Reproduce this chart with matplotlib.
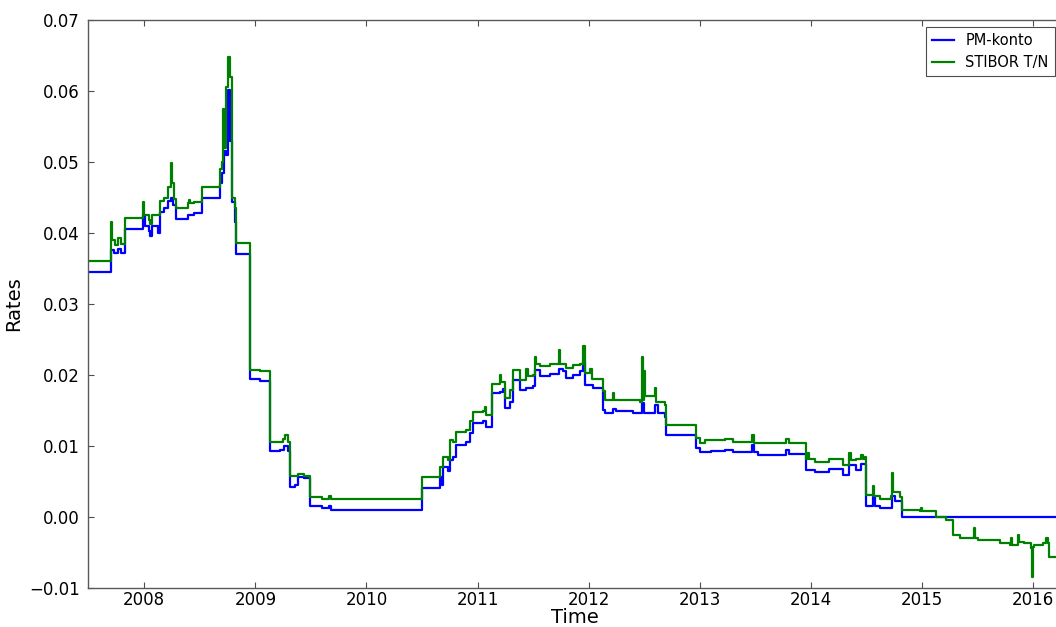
import matplotlib
matplotlib.use("Agg")
import matplotlib.pyplot as plt
from matplotlib.ticker import MultipleLocator, FormatStrFormatter, FuncFormatter

# PM-konto (Riksbank deposit/lending corridor rate), breakpoints in decimal years
pm_t = [2007.49, 2007.70, 2007.73, 2007.76, 2007.79, 2007.83, 2007.97, 2007.99, 2008.01,
        2008.04, 2008.05, 2008.07, 2008.10, 2008.12, 2008.14, 2008.18, 2008.21, 2008.24,
        2008.26, 2008.29, 2008.39, 2008.45, 2008.52, 2008.68, 2008.70, 2008.72, 2008.74,
        2008.75, 2008.77, 2008.79, 2008.82, 2008.83, 2008.95, 2009.04, 2009.13, 2009.22,
        2009.26, 2009.29, 2009.31, 2009.36, 2009.38, 2009.44, 2009.49, 2009.60, 2009.66,
        2009.68, 2010.50, 2010.62, 2010.66, 2010.68, 2010.69, 2010.73, 2010.75, 2010.78,
        2010.81, 2010.90, 2010.93, 2010.96, 2011.05, 2011.08, 2011.13, 2011.20, 2011.23,
        2011.25, 2011.29, 2011.32, 2011.38, 2011.44, 2011.50, 2011.52, 2011.56, 2011.65,
        2011.73, 2011.77, 2011.80, 2011.86, 2011.92, 2011.95, 2011.97, 2012.04, 2012.13,
        2012.15, 2012.22, 2012.25, 2012.40, 2012.48, 2012.50, 2012.60, 2012.62, 2012.69,
        2012.70, 2012.97, 2013.00, 2013.10, 2013.23, 2013.30, 2013.47, 2013.49, 2013.52,
        2013.70, 2013.78, 2013.80, 2013.96, 2014.04, 2014.16, 2014.29, 2014.34, 2014.41,
        2014.45, 2014.50, 2014.56, 2014.58, 2014.62, 2014.73, 2014.76, 2014.82, 2016.26]
pm_v = [0.0345, 0.0376, 0.0372, 0.0378, 0.0372, 0.0405, 0.0405, 0.0425, 0.0410,
        0.0403, 0.0396, 0.0410, 0.0410, 0.0400, 0.0430, 0.0435, 0.0445, 0.0450,
        0.0440, 0.0420, 0.0425, 0.0428, 0.0449, 0.0470, 0.0485, 0.0515, 0.0510,
        0.0601, 0.0530, 0.0444, 0.0415, 0.0370, 0.0194, 0.0191, 0.0093, 0.0095,
        0.0100, 0.0093, 0.0042, 0.0045, 0.0057, 0.0055, 0.0015, 0.0012, 0.0016,
        0.0010, 0.0041, 0.0041, 0.0057, 0.0045, 0.0071, 0.0065, 0.0080, 0.0085,
        0.0101, 0.0105, 0.0118, 0.0132, 0.0135, 0.0127, 0.0174, 0.0176, 0.0180,
        0.0153, 0.0162, 0.0193, 0.0179, 0.0181, 0.0185, 0.0207, 0.0198, 0.0202,
        0.0209, 0.0205, 0.0196, 0.0200, 0.0205, 0.0219, 0.0186, 0.0181, 0.0151,
        0.0147, 0.0152, 0.0149, 0.0146, 0.0160, 0.0147, 0.0158, 0.0147, 0.0141,
        0.0115, 0.0097, 0.0091, 0.0093, 0.0094, 0.0091, 0.0101, 0.0091, 0.0087,
        0.0088, 0.0095, 0.0089, 0.0066, 0.0064, 0.0067, 0.0059, 0.0073, 0.0066,
        0.0075, 0.0015, 0.0028, 0.0015, 0.0012, 0.0030, 0.0022, 0.0000, 0.0000]

# STIBOR tomorrow/next fixing
st_t = [2007.49, 2007.70, 2007.71, 2007.74, 2007.76, 2007.79, 2007.83, 2007.97, 2007.99,
        2008.00, 2008.04, 2008.05, 2008.07, 2008.12, 2008.14, 2008.18, 2008.21, 2008.24,
        2008.25, 2008.27, 2008.29, 2008.39, 2008.40, 2008.41, 2008.45, 2008.52, 2008.68,
        2008.70, 2008.71, 2008.72, 2008.74, 2008.75, 2008.77, 2008.79, 2008.82, 2008.83,
        2008.95, 2009.04, 2009.13, 2009.25, 2009.27, 2009.29, 2009.31, 2009.36, 2009.38,
        2009.44, 2009.49, 2009.60, 2009.66, 2009.68, 2010.50, 2010.62, 2010.66, 2010.69,
        2010.73, 2010.75, 2010.78, 2010.81, 2010.90, 2010.93, 2010.96, 2011.05, 2011.07,
        2011.08, 2011.13, 2011.20, 2011.21, 2011.25, 2011.29, 2011.32, 2011.38, 2011.44,
        2011.45, 2011.50, 2011.52, 2011.53, 2011.56, 2011.65, 2011.73, 2011.74, 2011.80,
        2011.86, 2011.92, 2011.95, 2011.97, 2012.01, 2012.03, 2012.13, 2012.15, 2012.22,
        2012.23, 2012.46, 2012.48, 2012.49, 2012.50, 2012.51, 2012.60, 2012.61, 2012.69,
        2012.70, 2012.97, 2013.00, 2013.05, 2013.23, 2013.30, 2013.47, 2013.49, 2013.78,
        2013.80, 2013.90, 2013.96, 2013.97, 2013.98, 2014.04, 2014.16, 2014.29, 2014.34,
        2014.36, 2014.41, 2014.45, 2014.47, 2014.49, 2014.50, 2014.56, 2014.57, 2014.62,
        2014.72, 2014.73, 2014.74, 2014.80, 2014.82, 2014.98, 2014.99, 2015.00, 2015.13,
        2015.22, 2015.28, 2015.34, 2015.46, 2015.47, 2015.48, 2015.50, 2015.70, 2015.79,
        2015.80, 2015.81, 2015.86, 2015.87, 2015.92, 2015.98, 2015.99, 2016.00, 2016.01,
        2016.09, 2016.12, 2016.13, 2016.14, 2016.26]
st_v = [0.0360, 0.0415, 0.0390, 0.0383, 0.0393, 0.0385, 0.0421, 0.0421, 0.0443,
        0.0425, 0.0418, 0.0412, 0.0425, 0.0425, 0.0445, 0.0450, 0.0465, 0.0499,
        0.0470, 0.0448, 0.0435, 0.0442, 0.0447, 0.0442, 0.0444, 0.0465, 0.0490,
        0.0500, 0.0575, 0.0520, 0.0605, 0.0648, 0.0620, 0.0450, 0.0435, 0.0386,
        0.0207, 0.0205, 0.0106, 0.0110, 0.0115, 0.0105, 0.0058, 0.0058, 0.0060,
        0.0058, 0.0028, 0.0025, 0.0030, 0.0025, 0.0057, 0.0057, 0.0071, 0.0085,
        0.0080, 0.0108, 0.0105, 0.0120, 0.0123, 0.0135, 0.0148, 0.0150, 0.0155,
        0.0144, 0.0188, 0.0200, 0.0190, 0.0167, 0.0179, 0.0207, 0.0193, 0.0209,
        0.0198, 0.0200, 0.0226, 0.0215, 0.0212, 0.0216, 0.0235, 0.0216, 0.0210,
        0.0214, 0.0216, 0.0241, 0.0203, 0.0209, 0.0195, 0.0177, 0.0165, 0.0175,
        0.0165, 0.0162, 0.0226, 0.0165, 0.0205, 0.0170, 0.0182, 0.0162, 0.0158,
        0.0130, 0.0111, 0.0104, 0.0108, 0.0110, 0.0105, 0.0116, 0.0104, 0.0110,
        0.0104, 0.0104, 0.0081, 0.0090, 0.0081, 0.0078, 0.0081, 0.0073, 0.0090,
        0.0080, 0.0081, 0.0088, 0.0081, 0.0085, 0.0031, 0.0044, 0.0029, 0.0026,
        0.0030, 0.0062, 0.0035, 0.0028, 0.0010, 0.0008, 0.0013, 0.0008, 0.0000,
        -0.0004, -0.0025, -0.0029, -0.0029, -0.0015, -0.0029, -0.0032, -0.0037, -0.0040,
        -0.0030, -0.0040, -0.0025, -0.0035, -0.0037, -0.0043, -0.0084, -0.0042, -0.0040,
        -0.0036, -0.0030, -0.0036, -0.0056, -0.0053]

series_names = ["PM-konto", "STIBOR T/N"]
series_colors = ["b", "g"]
x_range = (2007.494, 2016.26)
y_range = (-0.01, 0.07)

plt.rcParams["font.family"] = ["DejaVu Sans"]

fig = plt.figure(figsize=(10.56, 6.27), dpi=100)
ax = fig.add_axes([88 / 1056, 39 / 627, 974 / 1056, 568 / 627])

for t, v, name, c in zip([pm_t, st_t], [pm_v, st_v], series_names, series_colors):
    ax.plot(t, v, drawstyle="steps-post", color=c, lw=1.6, label=name)

ax.set_xlim(*x_range)
ax.set_ylim(*y_range)
ax.xaxis.set_major_locator(MultipleLocator(1))
ax.xaxis.set_major_formatter(FormatStrFormatter("%d"))
ax.yaxis.set_major_locator(MultipleLocator(0.01))
ax.yaxis.set_major_formatter(
    FuncFormatter(lambda y, _: f"{y:.2f}".replace("-", "\u2212") if abs(y) > 1e-9 else "0.00"))
ax.tick_params(direction="in", top=True, right=True, labelsize=12, length=4,
               width=0.8, color="0.3", pad=6)
ax.tick_params(axis="x", pad=2.5)
for s in ax.spines.values():
    s.set_color("0.35")
    s.set_linewidth(1.0)

ax.set_xlabel("Time", fontsize=14, labelpad=-1)
ax.set_ylabel("Rates", fontsize=14)

leg = ax.legend(loc="upper right", fontsize=10.5, fancybox=False, framealpha=1,
                edgecolor="0.3", borderaxespad=0.5, handlelength=1.5)
leg.get_frame().set_linewidth(0.8)

fig.savefig("out.png", dpi=100, facecolor="white")
